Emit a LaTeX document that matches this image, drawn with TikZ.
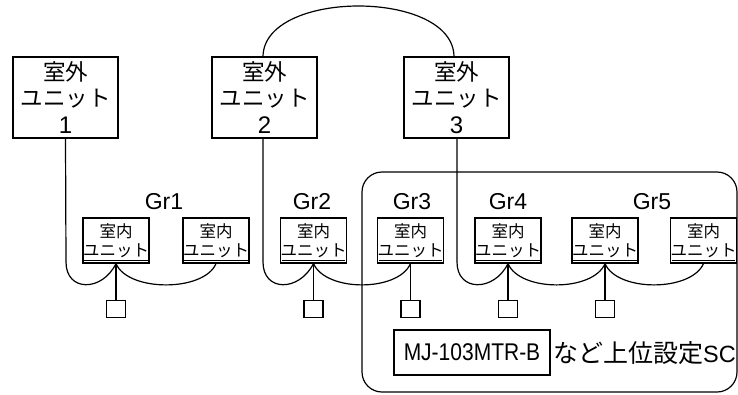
\documentclass[tikz,border=0pt]{standalone}
\usepackage{fontspec}
\setmainfont{Liberation Sans}
\newfontfamily\cjk{Noto Sans CJK JP}
\begin{document}
\begin{tikzpicture}[x=1pt,y=-1pt,
  wire/.style={line width=1.2pt},
  outdoor/.style={draw,line width=1.3pt,minimum width=105pt,minimum height=81pt,inner sep=0pt,align=center,
    font=\fontsize{22.5}{26.5}\selectfont},
  indoor/.style={draw,line width=1.2pt,minimum width=64pt,minimum height=45pt,inner sep=0pt,align=center,
    font=\fontsize{16.5}{19.5}\selectfont},
  remote/.style={draw,line width=1.2pt,minimum width=19pt,minimum height=17pt,inner sep=0pt},
  grlabel/.style={font=\fontsize{23}{23}\selectfont,inner sep=0pt}]
\useasboundingbox (0,0) rectangle (738,394);

% group enclosure for the upper-level controller
\draw[line width=1.2pt,rounded corners=20pt] (362,172) rectangle (737,392);

% outdoor units
\newcommand\unitnum[1]{\fontsize{24}{26.5}\selectfont #1}
\node[outdoor] (o1) at (65.5,97.5) {{\cjk 室外}\\{\cjk ユニット}\\\unitnum{1}};
\node[outdoor] (o2) at (264.5,97.5) {{\cjk 室外}\\{\cjk ユニット}\\\unitnum{2}};
\node[outdoor] (o3) at (456.5,97.5) {{\cjk 室外}\\{\cjk ユニット}\\\unitnum{3}};

% link between outdoor units 2 and 3
\draw[wire] (263,57) .. controls (263,-11) and (454,-11) .. (454,57);

% group labels
\node[grlabel] (g1) at (164,202) {Gr1};
\node[grlabel] (g2) at (312,202) {Gr2};
\node[grlabel] (g3) at (412,202) {Gr3};
\node[grlabel] (g4) at (508,202) {Gr4};
\node[grlabel] (g5) at (652,202) {Gr5};

% indoor units
\foreach \n/\x in {a/116,b/216,c/313.5,d/410.5,e/508,f/605,g/703.5}{
  \node[indoor] (i\n) at (\x,240.5) {{\cjk 室内}\\[-1pt]{\cjk ユニット}};
  \draw[line width=1pt] ([xshift=2pt,yshift=3pt]i\n.south west) -- ([xshift=-2pt,yshift=3pt]i\n.south east);
}

% remote controllers
\foreach \n in {a,c,d,e,f}{
  \path (i\n.south) ++(0,45.5) node[remote] (r\n) {};
  \draw[wire] (i\n.south) -- (r\n.north);
}

% transmission wiring
\coordinate (t1) at (66,262);
\coordinate (t2) at (263,262);
\coordinate (t3) at (457,262);
\draw[wire] (o1.south) -- (t1) .. controls (66,292) and (102,292) .. (ia.south);
\draw[wire] (ia.south) .. controls (128,292) and (204,292) .. (ib.south);
\draw[wire] (263,138) -- (t2) .. controls (263,292) and (299,292) .. (ic.south);
\draw[wire] (ic.south) .. controls (326,292) and (398,292) .. (id.south);
\draw[wire] (457,138) -- (t3) .. controls (457,292) and (494,292) .. (ie.south);
\draw[wire] (ie.south) .. controls (520,292) and (593,292) .. (if.south);
\draw[wire] (if.south) .. controls (617,292) and (691,292) .. (ig.south);

% upper-level controller
\node[draw,line width=1.2pt,minimum width=156pt,minimum height=45pt,inner sep=0pt,
  font=\fontsize{21}{21}\selectfont] (sc) at (472,352.5) {\scalebox{1}[1.15]{MJ-103MTR-B}};
\node[anchor=west,inner sep=0pt] (sct) at (553,353) {\fontsize{25}{25}\selectfont\cjk など上位設定\fontsize{23.5}{25}\selectfont\rmfamily SC};
\end{tikzpicture}
\end{document}
